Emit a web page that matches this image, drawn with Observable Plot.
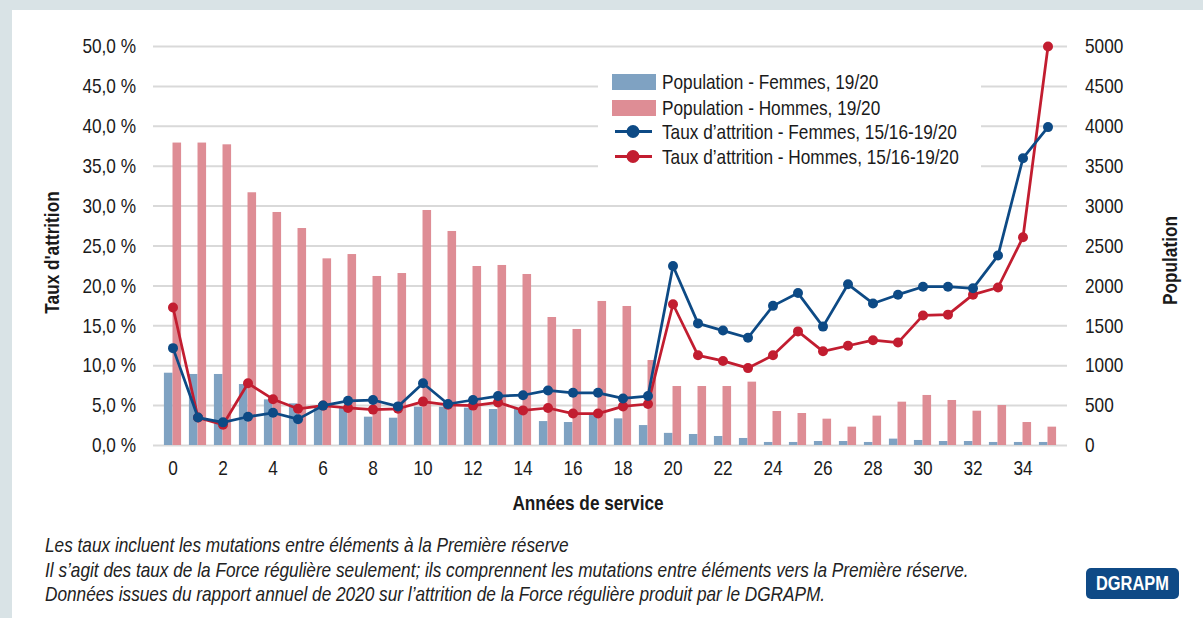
<!DOCTYPE html>
<html>
<head>
<meta charset="utf-8">
<script src="https://cdn.jsdelivr.net/npm/d3@7"></script>
<script src="https://cdn.jsdelivr.net/npm/@observablehq/plot@0.6"></script>
<style>
  html, body { margin: 0; padding: 0; }
  body { width: 1203px; height: 618px; background: #d9e3e6; position: relative; overflow: hidden;
         font-family: "Liberation Sans", Arial, sans-serif; color: #1a1a1a; }
  #panel { position: absolute; left: 12px; top: 10px; right: 0; bottom: 0; background: #fff; }
  #chart { position: absolute; left: 0; top: 0; }
  #legend { position: absolute; left: 598px; top: 64px; width: 383px; height: 108px; background: #fff; }
  .row { position: absolute; left: 0; height: 25px; width: 383px; font-size: 21px; line-height: 25px; }
  .row span { position: absolute; left: 64px; top: 0; white-space: nowrap; transform: scaleX(0.82); transform-origin: 0 50%; }
  .sw { position: absolute; left: 14px; top: 4.5px; width: 44px; height: 16px; }
  .lsw { position: absolute; left: 14px; top: 0; }
  #notes { position: absolute; left: 45px; top: 533px; font-size: 21px; line-height: 24.5px; font-style: italic; color: #222; white-space: nowrap; }
  #notes div { transform: scaleX(0.82); transform-origin: 0 50%; }
  #badge { position: absolute; left: 1086px; top: 568px; width: 93px; height: 31px; background: #0f4a86; border-radius: 5px;
           color: #fff; font-weight: bold; font-size: 20px; line-height: 31px; text-align: center; }
  #badge span { display: inline-block; transform: scaleX(0.82); transform-origin: 50% 50%; }
</style>
</head>
<body>
<div id="panel"></div>
<div id="chart"></div>
<div id="legend"></div>
<div id="notes">
  <div>Les taux incluent les mutations entre éléments à la Première réserve</div>
  <div>Il s’agit des taux de la Force régulière seulement; ils comprennent les mutations entre éléments vers la Première réserve.</div>
  <div>Données issues du rapport annuel de 2020 sur l’attrition de la Force régulière produit par le DGRAPM.</div>
</div>
<div id="badge"><span>DGRAPM</span></div>
<script>
// ---- Data ----
const years = [0,1,2,3,4,5,6,7,8,9,10,11,12,13,14,15,16,17,18,19,20,21,22,23,24,25,26,27,28,29,30,31,32,33,34,35];
const popFemmes = [906,890,890,764,572,522,465,468,355,342,480,480,468,451,460,300,288,376,334,250,152,138,113,88,38,38,50,50,38,80,63,50,50,38,38,38];
const popHommes = [3790,3790,3768,3167,2920,2719,2339,2393,2118,2155,2945,2682,2243,2256,2143,1604,1454,1805,1742,1065,739,739,739,794,426,401,330,230,368,543,627,564,430,501,288,230];
const tauxFemmes = [12.2,3.5,2.9,3.6,4.1,3.3,5.0,5.6,5.7,4.9,7.8,5.2,5.7,6.2,6.3,6.9,6.6,6.6,5.9,6.2,22.5,15.3,14.4,13.5,17.5,19.1,14.9,20.2,17.8,18.9,19.9,19.9,19.7,23.8,36.0,39.9];
const tauxHommes = [17.3,3.5,2.6,7.8,5.8,4.6,5.0,4.7,4.5,4.6,5.5,5.1,5.0,5.4,4.4,4.7,4.0,4.0,4.9,5.2,17.7,11.3,10.6,9.7,11.3,14.3,11.8,12.5,13.2,12.9,16.3,16.4,18.9,19.8,26.1,50.0];
const yTicks = [0,5,10,15,20,25,30,35,40,45,50];          // percent (left axis)
const xTicks = [0,2,4,6,8,10,12,14,16,18,20,22,24,26,28,30,32,34];
const popPerPercent = 100; // right axis: 5000 population <-> 50 %

const seriesLabels = ["Population - Femmes, 19/20", "Population - Hommes, 19/20",
  "Taux d’attrition - Femmes, 15/16-19/20", "Taux d’attrition - Hommes, 15/16-19/20"];

const C = {femBar: "#7fa2c2", homBar: "#de8d95", femLine: "#0d4a85", homLine: "#c21d30", grid: "#d9d9d9"};

const data = years.map((y, i) => ({year: y, pf: popFemmes[i], ph: popHommes[i], rf: tauxFemmes[i], rh: tauxHommes[i]}));

const bw = 901 / 36;        // band width
const barW = 8.6;
const font = "'Liberation Sans', Arial, sans-serif";

const chart = Plot.plot({
  width: 1203, height: 520,
  marginTop: 46, marginBottom: 75, marginLeft: 159.5, marginRight: 142.5,
  style: {fontFamily: font, fontSize: "21px", color: "#1a1a1a", background: "transparent", overflow: "visible"},
  x: {type: "band", domain: years, padding: 0, label: null},
  y: {domain: [0, 50], label: null},
  marks: [
    Plot.ruleY(yTicks, {stroke: C.grid, strokeWidth: 2, insetLeft: -6.5, insetRight: -6.5}),
    Plot.barY(data, {x: "year", y: d => d.pf / popPerPercent, fill: C.femBar, insetLeft: bw/2 - barW, insetRight: bw/2}),
    Plot.barY(data, {x: "year", y: d => d.ph / popPerPercent, fill: C.homBar, insetLeft: bw/2, insetRight: bw/2 - barW}),
    Plot.line(data, {x: "year", y: "rh", stroke: C.homLine, strokeWidth: 2.75}),
    Plot.dot(data, {x: "year", y: "rh", r: 5, fill: C.homLine}),
    Plot.line(data, {x: "year", y: "rf", stroke: C.femLine, strokeWidth: 2.75}),
    Plot.dot(data, {x: "year", y: "rf", r: 5, fill: C.femLine}),
    Plot.axisY({anchor: "left", ticks: yTicks, tickSize: 0, tickPadding: 24, label: null,
      tickFormat: d => d.toFixed(1).replace(".", ",") + " %"}),
    Plot.axisY({anchor: "right", ticks: yTicks, tickSize: 0, tickPadding: 24, label: null,
      tickFormat: d => String(d * popPerPercent)}),
    Plot.axisX({ticks: xTicks, tickSize: 0, tickPadding: 15, label: null}),
    Plot.text(["Années de service"], {text: d => d, frameAnchor: "bottom", dx: -22.5, dy: 64, fontWeight: "bold"}),
    Plot.text(["Taux d'attrition"], {text: d => d, frameAnchor: "left", textAnchor: "middle", rotate: -90, dx: -107.5, dy: 6.5, fontWeight: "bold"}),
    Plot.text(["Population"], {text: d => d, frameAnchor: "right", textAnchor: "middle", rotate: -90, dx: 109.5, dy: 14.5, fontWeight: "bold"})
  ]
});

// Condense all SVG texts horizontally (narrow Helvetica look) around their anchor.
const NARROW = 0.82;
chart.querySelectorAll("text").forEach(t => {
  const xa = t.getAttribute("x");
  const x = xa != null && !isNaN(parseFloat(xa)) ? parseFloat(xa) : 0;
  t.querySelectorAll("tspan").forEach(s => { if (s.getAttribute("x") != null) s.setAttribute("x", 0); });
  if (xa != null) t.setAttribute("x", 0);
  const tr = t.getAttribute("transform") || "";
  t.setAttribute("transform", `${tr} translate(${x},0) scale(${NARROW},1)`.trim());
});
document.getElementById("chart").appendChild(chart);

// ---- Legend ----
const leg = document.getElementById("legend");
const swatches = [
  {type: "bar", color: C.femBar}, {type: "bar", color: C.homBar},
  {type: "line", color: C.femLine}, {type: "line", color: C.homLine}
];
const rowTops = [5, 31, 55, 80];
seriesLabels.forEach((lab, i) => {
  const row = document.createElement("div");
  row.className = "row";
  row.style.top = rowTops[i] + "px";
  const s = swatches[i];
  if (s.type === "bar") {
    row.innerHTML = `<div class="sw" style="background:${s.color}"></div>`;
  } else {
    row.innerHTML = `<svg class="lsw" width="44" height="25"><line x1="3" x2="40" y1="12.5" y2="12.5" stroke="${s.color}" stroke-width="3"/><circle cx="21" cy="12.5" r="6.5" fill="${s.color}"/></svg>`;
  }
  const t = document.createElement("span");
  t.textContent = lab;
  row.appendChild(t);
  leg.appendChild(row);
});
</script>
</body>
</html>
